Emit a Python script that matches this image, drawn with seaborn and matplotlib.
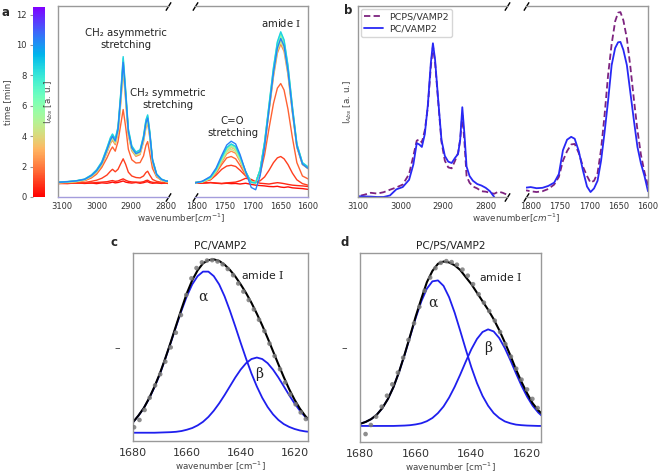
import numpy as np
import pandas as pd
import matplotlib
matplotlib.use('Agg')
import matplotlib.pyplot as plt
import seaborn as sns

# ---------------- data ----------------
# panel a: time-resolved spectra, two wavenumber windows
a_times = [0.2, 0.6, 1.0, 1.6, 2.3, 2.8, 3.3, 3.9, 4.6, 5.6, 7.0, 8.6, 10.4]
a_left_wn = [3110, 3085, 3060, 3035, 3015, 3000, 2985, 2970, 2960, 2954, 2946, 2938, 2930, 2923,
             2916, 2908, 2898, 2886, 2874, 2864, 2857, 2852, 2846, 2838, 2826, 2812, 2800, 2790]
a_left = [
    [0.072, 0.070, 0.074, 0.071, 0.073, 0.070, 0.074, 0.072, 0.075, 0.078, 0.074, 0.076, 0.080, 0.084,
     0.078, 0.075, 0.073, 0.076, 0.072, 0.075, 0.079, 0.080, 0.075, 0.072, 0.074, 0.071, 0.073, 0.070],
    [0.071, 0.073, 0.072, 0.074, 0.073, 0.076, 0.078, 0.080, 0.084, 0.086, 0.082, 0.084, 0.090, 0.095,
     0.088, 0.082, 0.079, 0.078, 0.077, 0.080, 0.086, 0.088, 0.081, 0.077, 0.075, 0.073, 0.074, 0.072],
    [0.070, 0.072, 0.073, 0.076, 0.082, 0.088, 0.098, 0.115, 0.135, 0.145, 0.132, 0.145, 0.175, 0.200,
     0.172, 0.130, 0.110, 0.102, 0.100, 0.110, 0.128, 0.135, 0.115, 0.092, 0.082, 0.077, 0.074, 0.072],
    [0.072, 0.074, 0.078, 0.085, 0.100, 0.120, 0.155, 0.205, 0.245, 0.262, 0.240, 0.290, 0.380, 0.458,
     0.370, 0.250, 0.195, 0.178, 0.180, 0.215, 0.270, 0.290, 0.230, 0.150, 0.105, 0.088, 0.080, 0.077],
    [0.074, 0.077, 0.080, 0.088, 0.106, 0.128, 0.165, 0.232, 0.280, 0.298, 0.274, 0.332, 0.492, 0.660,
     0.510, 0.322, 0.242, 0.213, 0.222, 0.288, 0.362, 0.386, 0.312, 0.180, 0.110, 0.088, 0.081, 0.079],
    [0.076, 0.078, 0.082, 0.090, 0.109, 0.134, 0.173, 0.242, 0.292, 0.311, 0.287, 0.346, 0.513, 0.690,
     0.533, 0.336, 0.252, 0.222, 0.232, 0.301, 0.380, 0.404, 0.326, 0.188, 0.114, 0.090, 0.082, 0.080],
    [0.075, 0.078, 0.081, 0.089, 0.109, 0.134, 0.174, 0.243, 0.293, 0.313, 0.288, 0.348, 0.516, 0.695,
     0.536, 0.338, 0.253, 0.223, 0.233, 0.303, 0.382, 0.407, 0.328, 0.189, 0.114, 0.089, 0.081, 0.079],
    [0.077, 0.080, 0.084, 0.092, 0.113, 0.139, 0.180, 0.251, 0.303, 0.322, 0.297, 0.357, 0.531, 0.715,
     0.551, 0.347, 0.260, 0.230, 0.240, 0.312, 0.394, 0.419, 0.337, 0.194, 0.118, 0.092, 0.084, 0.082],
    [0.075, 0.078, 0.081, 0.089, 0.108, 0.131, 0.170, 0.238, 0.287, 0.306, 0.282, 0.340, 0.505, 0.678,
     0.524, 0.330, 0.248, 0.219, 0.228, 0.296, 0.372, 0.396, 0.320, 0.184, 0.112, 0.089, 0.081, 0.080],
    [0.076, 0.079, 0.083, 0.091, 0.111, 0.136, 0.176, 0.246, 0.297, 0.316, 0.292, 0.351, 0.522, 0.702,
     0.542, 0.341, 0.256, 0.226, 0.236, 0.306, 0.386, 0.411, 0.331, 0.191, 0.116, 0.091, 0.083, 0.081],
    [0.077, 0.080, 0.084, 0.093, 0.114, 0.140, 0.181, 0.254, 0.306, 0.326, 0.300, 0.362, 0.539, 0.725,
     0.559, 0.352, 0.264, 0.233, 0.243, 0.316, 0.399, 0.425, 0.342, 0.197, 0.119, 0.093, 0.085, 0.082],
    [0.078, 0.081, 0.085, 0.094, 0.116, 0.143, 0.185, 0.258, 0.311, 0.330, 0.305, 0.367, 0.546, 0.735,
     0.566, 0.357, 0.268, 0.236, 0.247, 0.320, 0.404, 0.430, 0.346, 0.199, 0.121, 0.094, 0.085, 0.083],
    [0.077, 0.080, 0.084, 0.092, 0.112, 0.137, 0.177, 0.247, 0.298, 0.318, 0.293, 0.352, 0.524, 0.705,
     0.543, 0.342, 0.257, 0.227, 0.237, 0.307, 0.388, 0.413, 0.333, 0.192, 0.117, 0.092, 0.084, 0.082],
]
a_right_wn = [1805, 1790, 1775, 1765, 1755, 1746, 1738, 1730, 1722, 1712, 1702, 1694,
              1686, 1678, 1670, 1662, 1655, 1649, 1643, 1636, 1628, 1620, 1610, 1600]
a_right = [
    [0.075, 0.073, 0.076, 0.072, 0.070, 0.072, 0.070, 0.071, 0.068, 0.072, 0.066, 0.062,
     0.060, 0.058, 0.055, 0.054, 0.056, 0.052, 0.050, 0.053, 0.048, 0.046, 0.044, 0.040],
    [0.074, 0.072, 0.075, 0.073, 0.071, 0.074, 0.076, 0.078, 0.085, 0.098, 0.092, 0.080,
     0.072, 0.070, 0.068, 0.072, 0.075, 0.073, 0.070, 0.066, 0.062, 0.060, 0.058, 0.055],
    [0.074, 0.078, 0.090, 0.115, 0.145, 0.162, 0.166, 0.160, 0.140, 0.110, 0.085, 0.078,
     0.085, 0.105, 0.140, 0.180, 0.205, 0.212, 0.200, 0.170, 0.125, 0.090, 0.070, 0.062],
    [0.076, 0.080, 0.095, 0.125, 0.170, 0.205, 0.212, 0.200, 0.165, 0.115, 0.080, 0.080,
     0.120, 0.220, 0.360, 0.490, 0.570, 0.594, 0.560, 0.460, 0.310, 0.180, 0.110, 0.095],
    [0.073, 0.078, 0.095, 0.130, 0.182, 0.226, 0.240, 0.229, 0.186, 0.120, 0.078, 0.076,
     0.136, 0.268, 0.449, 0.630, 0.753, 0.800, 0.762, 0.640, 0.440, 0.260, 0.170, 0.148],
    [0.074, 0.080, 0.099, 0.137, 0.195, 0.243, 0.260, 0.248, 0.200, 0.128, 0.078, 0.075,
     0.139, 0.277, 0.465, 0.652, 0.781, 0.830, 0.790, 0.662, 0.455, 0.268, 0.174, 0.152],
    [0.074, 0.080, 0.099, 0.138, 0.196, 0.245, 0.262, 0.250, 0.201, 0.128, 0.078, 0.075,
     0.139, 0.278, 0.467, 0.656, 0.785, 0.835, 0.795, 0.666, 0.457, 0.269, 0.174, 0.151],
    [0.074, 0.081, 0.102, 0.142, 0.203, 0.254, 0.272, 0.259, 0.208, 0.132, 0.077, 0.074,
     0.141, 0.283, 0.475, 0.667, 0.799, 0.850, 0.809, 0.678, 0.466, 0.274, 0.178, 0.155],
    [0.074, 0.079, 0.097, 0.134, 0.189, 0.235, 0.250, 0.238, 0.193, 0.124, 0.078, 0.076,
     0.138, 0.272, 0.457, 0.641, 0.767, 0.815, 0.776, 0.651, 0.447, 0.264, 0.172, 0.150],
    [0.073, 0.080, 0.100, 0.139, 0.198, 0.247, 0.265, 0.252, 0.203, 0.129, 0.077, 0.075,
     0.140, 0.280, 0.470, 0.660, 0.790, 0.840, 0.800, 0.670, 0.460, 0.270, 0.175, 0.152],
    [0.074, 0.081, 0.103, 0.143, 0.205, 0.257, 0.275, 0.262, 0.210, 0.133, 0.077, 0.074,
     0.142, 0.286, 0.480, 0.674, 0.807, 0.858, 0.817, 0.684, 0.470, 0.276, 0.179, 0.156],
    [0.075, 0.082, 0.104, 0.145, 0.207, 0.259, 0.278, 0.265, 0.212, 0.134, 0.076, 0.074,
     0.143, 0.288, 0.483, 0.679, 0.813, 0.865, 0.823, 0.690, 0.474, 0.278, 0.180, 0.158],
    [0.072, 0.082, 0.108, 0.152, 0.218, 0.272, 0.292, 0.278, 0.222, 0.132, 0.050, 0.038,
     0.110, 0.262, 0.458, 0.650, 0.780, 0.830, 0.790, 0.660, 0.452, 0.266, 0.172, 0.150],
]

# panel b: PC/VAMP2 vs PCPS/VAMP2
b_left_wn = [3100, 3085, 3070, 3055, 3040, 3025, 3010, 2995, 2980, 2970, 2962, 2956, 2950, 2943,
             2936, 2929, 2924, 2919, 2912, 2904, 2896, 2888, 2880, 2872, 2865, 2860, 2855, 2850,
             2845, 2838, 2830, 2820, 2810, 2800, 2790, 2780, 2770, 2760, 2752]
b_left_pc = [0.004, 0.003, 0.002, 0.000, 0.000, 0.008, 0.040, 0.052, 0.090, 0.170, 0.282, 0.275,
             0.262, 0.330, 0.480, 0.700, 0.805, 0.720, 0.520, 0.300, 0.215, 0.185, 0.178, 0.205,
             0.225, 0.300, 0.470, 0.330, 0.160, 0.110, 0.085, 0.068, 0.060, 0.048, 0.030, 0.000,
             np.nan, np.nan, np.nan]
b_left_pcps = [0.004, 0.012, 0.022, 0.018, 0.025, 0.038, 0.050, 0.065, 0.120, 0.215, 0.295, 0.302,
               0.285, 0.350, 0.470, 0.680, 0.790, 0.705, 0.510, 0.290, 0.190, 0.155, 0.150, 0.190,
               0.230, 0.300, 0.428, 0.290, 0.110, 0.075, 0.055, 0.045, 0.030, 0.028, 0.022, 0.017,
               0.028, 0.022, 0.014]
b_right_wn = [1808, 1800, 1790, 1780, 1770, 1760, 1752, 1745, 1738, 1731, 1725, 1718, 1711, 1704,
              1698, 1692, 1686, 1680, 1674, 1668, 1662, 1656, 1651, 1647, 1642, 1636, 1630, 1624,
              1618, 1612, 1606, 1600]
b_right_pc = [0.049, 0.052, 0.046, 0.048, 0.058, 0.075, 0.120, 0.245, 0.300, 0.315, 0.305, 0.240,
              0.140, 0.055, 0.026, 0.045, 0.085, 0.190, 0.340, 0.505, 0.690, 0.780, 0.810, 0.812,
              0.770, 0.690, 0.545, 0.400, 0.262, 0.175, 0.110, 0.030]
b_right_pcps = [0.035, 0.030, 0.026, 0.030, 0.042, 0.065, 0.105, 0.190, 0.240, 0.275, 0.278, 0.230,
                0.160, 0.110, 0.075, 0.085, 0.125, 0.250, 0.430, 0.640, 0.800, 0.920, 0.965, 0.968,
                0.925, 0.830, 0.680, 0.510, 0.350, 0.220, 0.130, 0.060]

# panels c, d: amide I band deconvolution
fit_wn = [1680, 1678, 1676, 1674, 1672, 1670, 1668, 1666, 1664, 1662, 1660, 1658, 1656, 1654, 1652, 1650, 1648,
          1646, 1644, 1642, 1640, 1638, 1636, 1634, 1632, 1630, 1628, 1626, 1624, 1622, 1620, 1618, 1616, 1614]
c_alpha = [0.100, 0.134, 0.175, 0.226, 0.287, 0.356, 0.438, 0.522, 0.609, 0.693, 0.770, 0.833, 0.877, 0.901,
           0.901, 0.877, 0.833, 0.770, 0.693, 0.609, 0.522, 0.438, 0.359, 0.290, 0.230, 0.181, 0.142, 0.112,
           0.090, 0.075, 0.064, 0.056, 0.051, 0.048]
c_beta = [0.044, 0.044, 0.044, 0.044, 0.044, 0.045, 0.046, 0.047, 0.049, 0.053, 0.060, 0.069, 0.083, 0.102,
          0.128, 0.161, 0.200, 0.244, 0.291, 0.338, 0.380, 0.414, 0.436, 0.444, 0.436, 0.414, 0.380, 0.338,
          0.291, 0.244, 0.200, 0.161, 0.128, 0.102]
c_fit = [0.100, 0.135, 0.175, 0.228, 0.290, 0.360, 0.440, 0.525, 0.614, 0.702, 0.786, 0.855, 0.908, 0.945,
         0.962, 0.966, 0.958, 0.938, 0.910, 0.875, 0.833, 0.787, 0.735, 0.677, 0.615, 0.548, 0.478, 0.408,
         0.340, 0.276, 0.220, 0.172, 0.133, 0.102]
c_pts_wn = [1679.6, 1677.6, 1675.7, 1673.8, 1671.8, 1669.9, 1668.0, 1666.0, 1664.1, 1662.2, 1660.2, 1658.3,
            1656.4, 1654.4, 1652.5, 1650.6, 1648.6, 1646.7, 1644.8, 1642.8, 1640.9, 1639.0, 1637.0, 1635.1,
            1633.2, 1631.2, 1629.3, 1627.4, 1625.4, 1623.5, 1621.6, 1619.6, 1617.7, 1615.8]
c_pts = [0.073, 0.112, 0.165, 0.230, 0.296, 0.355, 0.422, 0.498, 0.576, 0.670, 0.777, 0.865, 0.920, 0.950,
         0.960, 0.962, 0.955, 0.940, 0.915, 0.882, 0.838, 0.795, 0.750, 0.700, 0.645, 0.585, 0.518, 0.452,
         0.382, 0.312, 0.248, 0.195, 0.152, 0.117]

d_alpha = [0.096, 0.106, 0.121, 0.144, 0.179, 0.227, 0.290, 0.369, 0.460, 0.558, 0.656, 0.743, 0.811, 0.850,
           0.855, 0.826, 0.766, 0.684, 0.588, 0.489, 0.395, 0.312, 0.244, 0.192, 0.153, 0.127, 0.109, 0.099,
           0.092, 0.089, 0.087, 0.086, 0.085, 0.085]
d_beta = [0.085, 0.085, 0.085, 0.085, 0.085, 0.085, 0.085, 0.086, 0.087, 0.089, 0.093, 0.099, 0.110, 0.127,
          0.153, 0.188, 0.235, 0.292, 0.357, 0.426, 0.491, 0.545, 0.582, 0.596, 0.585, 0.550, 0.497, 0.433,
          0.364, 0.298, 0.240, 0.192, 0.156, 0.129]
d_fit = [0.096, 0.106, 0.121, 0.144, 0.179, 0.227, 0.290, 0.370, 0.462, 0.562, 0.664, 0.757, 0.845, 0.905,
         0.943, 0.955, 0.950, 0.935, 0.910, 0.872, 0.835, 0.790, 0.745, 0.700, 0.650, 0.592, 0.527, 0.458,
         0.385, 0.318, 0.258, 0.205, 0.168, 0.140]
d_pts_wn = [1678.0, 1676.1, 1674.2, 1672.2, 1670.3, 1668.4, 1666.4, 1664.5, 1662.6, 1660.6, 1658.7, 1656.8,
            1654.8, 1652.9, 1651.0, 1649.0, 1647.1, 1645.2, 1643.2, 1641.3, 1639.4, 1637.4, 1635.5, 1633.6,
            1631.6, 1629.7, 1627.8, 1625.8, 1623.9, 1622.0, 1620.0, 1618.1, 1616.2]
d_pts = [0.042, 0.090, 0.134, 0.187, 0.245, 0.305, 0.367, 0.446, 0.540, 0.628, 0.715, 0.800, 0.870, 0.920,
         0.948, 0.957, 0.952, 0.938, 0.912, 0.880, 0.835, 0.782, 0.737, 0.693, 0.642, 0.582, 0.518, 0.452,
         0.388, 0.330, 0.278, 0.228, 0.180]

# ---------------- style ----------------
sns.set_style('white')
plt.rcParams['font.family'] = ['DejaVu Sans']
plt.rcParams['axes.edgecolor'] = '#999999'
plt.rcParams['axes.linewidth'] = 1.0
plt.rcParams['xtick.color'] = '#999999'
plt.rcParams['ytick.color'] = '#999999'
plt.rcParams['xtick.labelcolor'] = '#333333'
plt.rcParams['ytick.labelcolor'] = '#333333'

W, H = 661, 474
fig = plt.figure(figsize=(W / 100, H / 100), dpi=100)


def rect(x0, y0, x1, y1):
    return [x0 / W, 1 - y1 / H, (x1 - x0) / W, (y1 - y0) / H]


def ftext(x, y, s, **kw):
    fig.text(x / W, 1 - y / H, s, ha='center', va='center', **kw)


def breaks(ax, x):
    ax.plot([x, x], [0, 1], transform=ax.transAxes, clip_on=False, linestyle='none',
            marker=[(-1, -1.6), (1, 1.6)], markersize=6, mec='k', mew=1)


def long_df(wn, curves, times):
    return pd.DataFrame({'wn': np.tile(wn, len(times)),
                         'I': np.concatenate(curves),
                         'time': np.repeat(times, len(wn))})


lab_kw = dict(fontsize=6.3, color='#444444')

# ---------------- panel a ----------------
cax = fig.add_axes(rect(33, 7, 45, 197))
ax_al = fig.add_axes(rect(58, 6, 168, 197))
ax_ar = fig.add_axes(rect(195, 6, 308, 197))

norm = plt.Normalize(0, 12.5)
for ax, wn, curves, xlim, ticks in [(ax_al, a_left_wn, a_left, (3112, 2793), [3100, 3000, 2900, 2800]),
                                    (ax_ar, a_right_wn, a_right, (1803, 1600), [1800, 1750, 1700, 1650, 1600])]:
    sns.lineplot(data=long_df(wn, curves, a_times), x='wn', y='I', hue='time',
                 hue_order=a_times[::-1], palette='rainbow_r', hue_norm=norm,
                 estimator=None, legend=False, lw=1.0, ax=ax)
    ax.set_xlim(*xlim)
    ax.set_ylim(0, 1)
    ax.set_xticks(ticks)
    ax.set_yticks([])
    ax.set_xlabel('')
    ax.set_ylabel('')
    ax.spines['bottom'].set_color('#a49ddc')
    ax.tick_params(axis='x', labelsize=6, length=2.5, pad=1)
ax_al.spines['right'].set_visible(False)
ax_ar.spines['left'].set_visible(False)
breaks(ax_al, 1)
breaks(ax_ar, 0)
ax_al.set_ylabel('I$_{Abs}$ [a. u.]', labelpad=2, **lab_kw)

sm = plt.cm.ScalarMappable(cmap='rainbow_r', norm=norm)
cb = fig.colorbar(sm, cax=cax)
cb.outline.set_visible(False)
cax.yaxis.set_ticks_position('left')
cax.yaxis.set_label_position('left')
cb.set_ticks([0, 2, 4, 6, 8, 10, 12])
cax.tick_params(labelsize=6, length=2.5, pad=2)
cb.set_label('time [min]', labelpad=3, **lab_kw)

ftext(181.5, 218.5, 'wavenumber[$cm^{-1}$]', **lab_kw)
ann = dict(fontsize=7.3, color='#222222', linespacing=1.25)
ftext(125.5, 39.5, 'CH\u2082 asymmetric\nstretching', **ann)
ftext(167.5, 98.5, 'CH\u2082 symmetric\nstretching', **ann)
ftext(232.5, 126.7, 'C=O\nstretching', **ann)
ftext(281, 23, 'amide $\\mathrm{I}$', math_fontfamily='dejavuserif', **ann)
ftext(6, 12, 'a', fontsize=8.5, fontweight='bold')

# ---------------- panel b ----------------
ax_bl = fig.add_axes(rect(358, 6, 507, 197))
ax_br = fig.add_axes(rect(526, 6, 648, 197))
b_pal = {'PCPS/VAMP2': '#7d237f', 'PC/VAMP2': '#2828f5'}
b_dash = {'PCPS/VAMP2': (3.5, 1.8), 'PC/VAMP2': ''}
for ax, wn, pcps, pc, xlim, ticks in [(ax_bl, b_left_wn, b_left_pcps, b_left_pc, (3100, 2750), [3100, 3000, 2900, 2800]),
                                      (ax_br, b_right_wn, b_right_pcps, b_right_pc, (1808, 1600), [1800, 1750, 1700, 1650, 1600])]:
    df_b = pd.DataFrame({'wn': wn * 2, 'I': pcps + pc,
                         'sample': ['PCPS/VAMP2'] * len(wn) + ['PC/VAMP2'] * len(wn)})
    sns.lineplot(data=df_b, x='wn', y='I', hue='sample', style='sample', palette=b_pal,
                 dashes=b_dash, estimator=None, lw=1.3, legend=(ax is ax_bl), ax=ax)
    ax.set_xlim(*xlim)
    ax.set_ylim(0, 1)
    ax.set_xticks(ticks)
    ax.set_yticks([])
    ax.set_xlabel('')
    ax.set_ylabel('')
    ax.tick_params(axis='x', labelsize=6, length=2.5, pad=1)
ax_bl.spines['right'].set_visible(False)
ax_br.spines['left'].set_visible(False)
breaks(ax_bl, 1)
breaks(ax_br, 0)
leg = ax_bl.legend(loc='upper left', fontsize=6.8, frameon=True, handlelength=2.0,
                   borderaxespad=0.3, labelspacing=0.35, borderpad=0.35, handletextpad=0.6)
leg.get_frame().set_edgecolor('#cccccc')
for t in leg.get_texts():
    t.set_color('#333333')
ax_bl.set_ylabel('I$_{Abs}$ [a. u.]', labelpad=3, **lab_kw)
ftext(516.5, 218.5, 'wavenumber[$cm^{-1}$]', **lab_kw)
ftext(348, 10, 'b', fontsize=8.5, fontweight='bold')

# ---------------- panels c, d ----------------
ax_c = fig.add_axes(rect(133, 253, 308, 441))
ax_d = fig.add_axes(rect(360, 253, 541, 442))
blue = '#1f1fee'
for ax, title, al, be, fi, pw, pv, txt in [
        (ax_c, 'PC/VAMP2', c_alpha, c_beta, c_fit, c_pts_wn, c_pts,
         [(1631.7, 0.883), (1654.0, 0.768), (1633.0, 0.356)]),
        (ax_d, 'PC/PS/VAMP2', d_alpha, d_beta, d_fit, d_pts_wn, d_pts,
         [(1629.7, 0.875), (1653.7, 0.737), (1633.9, 0.496)])]:
    sns.lineplot(x=fit_wn, y=al, color=blue, lw=1.3, ax=ax)
    sns.lineplot(x=fit_wn, y=be, color=blue, lw=1.3, ax=ax)
    sns.lineplot(x=fit_wn, y=fi, color='k', lw=1.5, ax=ax)
    sns.scatterplot(x=pw, y=pv, color='#7a7a7a', s=11, edgecolor='none', alpha=0.85, zorder=3, ax=ax)
    ax.set_xlim(1680, 1615)
    ax.set_ylim(0, 1)
    ax.set_xticks([1680, 1660, 1640, 1620])
    ax.set_yticks([0.5])
    ax.set_yticklabels(['\u2013'])
    ax.tick_params(axis='x', labelsize=8, length=3, pad=2)
    ax.tick_params(axis='y', labelsize=8, length=0, pad=9)
    ax.set_xlabel('wavenumber [cm$^{-1}$]', labelpad=1.5, **lab_kw)
    ax.set_ylabel('')
    ax.set_title(title, fontsize=7.6, color='#222222', pad=3)
    ax.text(*txt[0], 'amide $\\mathrm{I}$', math_fontfamily='dejavuserif', fontsize=7.8,
            color='#222222', ha='center', va='center')
    ax.text(*txt[1], '\u03b1', family='DejaVu Serif', fontsize=10, color='#222222', ha='center', va='center')
    ax.text(*txt[2], '\u03b2', family='DejaVu Serif', fontsize=10, color='#222222', ha='center', va='center')

ftext(114, 243, 'c', fontsize=8.5, fontweight='bold')
ftext(345, 243, 'd', fontsize=8.5, fontweight='bold')

fig.savefig('out.png', dpi=100)
